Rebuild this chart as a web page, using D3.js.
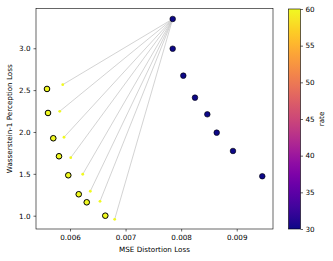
<!DOCTYPE html>
<html>
<head>
<meta charset="utf-8">
<script src="https://cdn.jsdelivr.net/npm/d3@7"></script>
<style>
  body { margin: 0; background: #fff; }
  text { font-family: "DejaVu Sans", sans-serif; }
</style>
</head>
<body>
<div id="chart"></div>
<script>
// low rate (30) points: the ones along the right diagonal
var lowX = [0.007848, 0.007848, 0.008039, 0.008249, 0.008471, 0.008640, 0.008933, 0.009460];
var lowY = [3.350, 2.995, 2.673, 2.410, 2.211, 1.992, 1.773, 1.471];
// high rate (60) points, black edged
var highX = [0.005586, 0.005604, 0.005699, 0.005802, 0.005969, 0.006157, 0.006301, 0.006635];
var highY = [2.514, 2.227, 1.925, 1.710, 1.483, 1.256, 1.160, 1.000];
// small yellow points, end of the grey lines
var smallX = [0.005869, 0.005815, 0.005892, 0.006013, 0.006229, 0.006365, 0.006540, 0.006804];
var smallY = [2.565, 2.247, 1.937, 1.693, 1.495, 1.292, 1.172, 0.957];
var xTicks = [0.006, 0.007, 0.008, 0.009];
var yTicks = [1.0, 1.5, 2.0, 2.5, 3.0];
var cTicks = [30, 35, 40, 45, 50, 55, 60];
var lowRate = 30, highRate = 60;

var width = 333, height = 261;
var plot = { left: 36, right: 273, top: 8.5, bottom: 229 };
var bar = { left: 288.5, right: 300.5, top: 9, bottom: 229 };

var svg = d3.select("#chart").append("svg")
  .attr("width", width)
  .attr("height", height);

var x = d3.scaleLinear().domain([0.005388, 0.009653]).range([plot.left, plot.right]);
var y = d3.scaleLinear().domain([0.841, 3.475]).range([plot.bottom, plot.top]);
var c = d3.scaleSequential(d3.interpolatePlasma).domain([lowRate, highRate]);

// grey lines from the top point to each small point
svg.append("g").selectAll("line")
  .data(smallX)
  .enter()
  .append("line")
  .attr("x1", x(lowX[0]))
  .attr("y1", y(lowY[0]))
  .attr("x2", function (d) { return x(d); })
  .attr("y2", function (d, i) { return y(smallY[i]); })
  .attr("stroke", "#c8c8c8")
  .attr("stroke-width", 0.8);

// small yellow points
svg.append("g").selectAll("circle")
  .data(smallX)
  .enter()
  .append("circle")
  .attr("cx", function (d) { return x(d); })
  .attr("cy", function (d, i) { return y(smallY[i]); })
  .attr("r", 1.4)
  .attr("fill", c(highRate));

// high rate points
svg.append("g").selectAll("circle")
  .data(highX)
  .enter()
  .append("circle")
  .attr("cx", function (d) { return x(d); })
  .attr("cy", function (d, i) { return y(highY[i]); })
  .attr("r", 2.8)
  .attr("fill", c(highRate))
  .attr("stroke", "#000")
  .attr("stroke-width", 1);

// low rate points
svg.append("g").selectAll("circle")
  .data(lowX)
  .enter()
  .append("circle")
  .attr("cx", function (d) { return x(d); })
  .attr("cy", function (d, i) { return y(lowY[i]); })
  .attr("r", 2.8)
  .attr("fill", c(lowRate))
  .attr("stroke", "#000")
  .attr("stroke-width", 0.6);

// axes
var xAxis = svg.append("g")
  .attr("transform", "translate(0," + plot.bottom + ")")
  .call(d3.axisBottom(x).tickValues(xTicks).tickFormat(d3.format(".3f")).tickSizeOuter(0).tickSize(2.5).tickPadding(3));
var yAxis = svg.append("g")
  .attr("transform", "translate(" + plot.left + ",0)")
  .call(d3.axisLeft(y).tickValues(yTicks).tickFormat(d3.format(".1f")).tickSizeOuter(0).tickSize(2.5).tickPadding(3));
[xAxis, yAxis].forEach(function (a) {
  a.select(".domain").remove();
  a.selectAll("line").attr("stroke", "#000").attr("stroke-width", 0.6);
  a.selectAll("text").style("font-size", "7.2px").attr("fill", "#000").style("font-family", "DejaVu Sans");
});

// frame
svg.append("rect")
  .attr("x", plot.left)
  .attr("y", plot.top)
  .attr("width", plot.right - plot.left)
  .attr("height", plot.bottom - plot.top)
  .attr("fill", "none")
  .attr("stroke", "#000")
  .attr("stroke-width", 0.6);

// axis titles
svg.append("text")
  .attr("x", (plot.left + plot.right) / 2)
  .attr("y", 252)
  .attr("text-anchor", "middle")
  .style("font-size", "7.2px")
  .text("MSE Distortion Loss");
svg.append("text")
  .attr("transform", "translate(12," + ((plot.top + plot.bottom) / 2) + ")rotate(-90)")
  .attr("text-anchor", "middle")
  .style("font-size", "7.2px")
  .text("Wasserstein-1 Perception Loss");

// colorbar
var grad = svg.append("defs").append("linearGradient")
  .attr("id", "plasma")
  .attr("x1", 0).attr("y1", 1).attr("x2", 0).attr("y2", 0);
d3.range(0, 1.0001, 0.05).forEach(function (t) {
  grad.append("stop")
    .attr("offset", t)
    .attr("stop-color", d3.interpolatePlasma(t));
});
svg.append("rect")
  .attr("x", bar.left)
  .attr("y", bar.top)
  .attr("width", bar.right - bar.left)
  .attr("height", bar.bottom - bar.top)
  .attr("fill", "url(#plasma)")
  .attr("stroke", "#000")
  .attr("stroke-width", 0.6);

var cy = d3.scaleLinear().domain([lowRate, highRate]).range([bar.bottom, bar.top]);
var cAxis = svg.append("g")
  .attr("transform", "translate(" + bar.right + ",0)")
  .call(d3.axisRight(cy).tickValues(cTicks).tickSizeOuter(0).tickSize(2.5).tickPadding(2.5));
cAxis.select(".domain").remove();
cAxis.selectAll("line").attr("stroke", "#000").attr("stroke-width", 0.6);
cAxis.selectAll("text").style("font-size", "7.2px").attr("fill", "#000").style("font-family", "DejaVu Sans");

svg.append("text")
  .attr("transform", "translate(324," + ((bar.top + bar.bottom) / 2) + ")rotate(-90)")
  .attr("text-anchor", "middle")
  .style("font-size", "7.2px")
  .text("rate");
</script>
</body>
</html>
